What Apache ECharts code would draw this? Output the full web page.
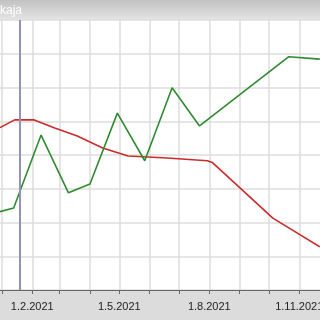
<!DOCTYPE html>
<html>
<head>
<meta charset="utf-8">
<script src="https://cdn.jsdelivr.net/npm/echarts@6/dist/echarts.min.js"></script>
<style>html,body{margin:0;padding:0;background:#dcdcdc;}#c{width:320px;height:320px;}</style>
</head>
<body>
<div id="c"></div>
<script>
const greenDates = ['2020-12-30','2021-01-13','2021-02-10','2021-03-10','2021-04-01','2021-04-29','2021-05-27','2021-06-24','2021-07-22','2021-10-21','2021-11-22'];
const greenValues = [23.2,24.3,45.9,28.8,31.4,52.4,38.3,59.9,48.6,69.1,68.4];
const redDates = ['2020-12-30','2021-01-14','2021-02-03','2021-02-24','2021-03-19','2021-04-14','2021-05-10','2021-06-19','2021-07-30','2021-08-04','2021-10-05','2021-11-22'];
const redValues = [48.1,50.4,50.4,48.0,45.6,42.1,39.7,39.1,38.3,37.8,21.3,12.8];
const monthTicks = ['2021-01-01','2021-02-01','2021-03-01','2021-04-01','2021-05-01','2021-06-01','2021-07-01','2021-08-01','2021-09-01','2021-10-01','2021-11-01'];
const labelTicks = ['2021-02-01','2021-05-01','2021-08-01','2021-11-01'];
const cursorDate = '2021-01-19 10';
const titleText = 'kaja';

function ts(s){
  const p = s.split(/[- ]/).map(Number);
  return new Date(p[0], p[1]-1, p[2], p[3]||0).getTime();
}
const chart = echarts.init(document.getElementById('c'), null, {renderer:'canvas'});
chart.setOption({
  animation:false,
  backgroundColor:'#dcdcdc',
  graphic:[
    {type:'rect', left:0, top:0, shape:{width:320,height:20}, silent:true,
     style:{fill:new echarts.graphic.LinearGradient(0,0,0,1,[{offset:0,color:'#c2c2c2'},{offset:1,color:'#e4e4e4'}])}},
    {type:'text', left:0, top:5, silent:true, style:{text:titleText, fill:'#ffffff', font:'12px "Liberation Sans", Arial, sans-serif'}}
  ],
  grid:{left:0,right:0,top:20,bottom:30,show:true,backgroundColor:'#ffffff',borderWidth:0,containLabel:false,outerBoundsMode:'none'},
  xAxis:{
    type:'value',
    min:ts('2020-12-30'), max:ts('2021-11-22 05'),
    axisLine:{show:true,lineStyle:{color:'#666666',width:1}},
    axisTick:{show:true,length:4,lineStyle:{color:'#666666'},customValues:monthTicks.map(ts)},
    axisLabel:{customValues:labelTicks.map(ts), color:'#222222', fontSize:11, fontFamily:'"Liberation Sans", Arial, sans-serif', margin:11,
      hideOverlap:false,
      formatter:function(v){const d=new Date(v);return d.getDate()+'.'+(d.getMonth()+1)+'.'+d.getFullYear();}},
    splitLine:{show:true,lineStyle:{color:'#dcdcdc',width:1.5}}
  },
  yAxis:{
    type:'value', min:0, max:80, interval:10,
    axisLine:{show:false}, axisTick:{show:false}, axisLabel:{show:false},
    splitLine:{show:true,lineStyle:{color:'#dedede',width:1.5}}
  },
  series:[
    {type:'line', data:redDates.map((d,i)=>[ts(d),redValues[i]]), showSymbol:false, symbol:'none',
     lineStyle:{color:'#cc2a2a',width:1.6}, z:3,
     markLine:{silent:true,symbol:'none',label:{show:false},lineStyle:{color:'#9393b3',width:2,type:'solid'},data:[{xAxis:ts(cursorDate)}]}},
    {type:'line', data:greenDates.map((d,i)=>[ts(d),greenValues[i]]), showSymbol:false, symbol:'none',
     lineStyle:{color:'#2f8a2f',width:1.6}, z:4}
  ]
});
</script>
</body>
</html>
